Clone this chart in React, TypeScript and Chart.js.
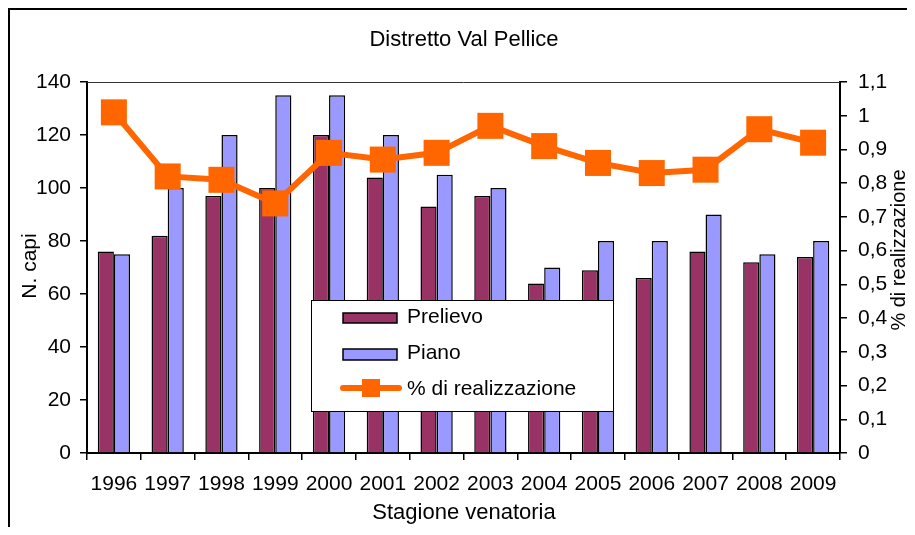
import React, { useEffect, useRef } from "react";
import { Chart, registerables } from "chart.js";

Chart.register(...registerables);

const years = ["1996","1997","1998","1999","2000","2001","2002","2003","2004","2005","2006","2007","2008","2009"];
const prelievo = [76, 82, 97, 100, 120, 104, 93, 97, 64, 69, 66, 76, 72, 74];
const piano = [75, 100, 120, 135, 135, 120, 105, 100, 70, 80, 80, 90, 75, 80];
const realizzazione = [1.01, 0.82, 0.81, 0.74, 0.89, 0.87, 0.89, 0.97, 0.91, 0.86, 0.83, 0.84, 0.96, 0.92];

const chartTitle = "Distretto Val Pellice";
const xTitle = "Stagione venatoria";
const yTitle = "N. capi";
const y1Title = "% di realizzazione";
const legendLabels = ["Prelievo", "Piano", "% di realizzazione"];

const FONT = "'Liberation Sans', Arial, sans-serif";
const COL_PRE = "#993366";
const COL_PIA = "#9999FF";
const COL_LINE = "#FF6600";

const decorPlugin = {
  id: "decor",
  afterDraw(chart: any) {
    const ctx = chart.ctx;
    const ca = chart.chartArea;
    ctx.save();
    // outer frame (top & left)
    ctx.strokeStyle = "#000";
    ctx.lineWidth = 2;
    ctx.beginPath();
    ctx.moveTo(1, chart.height);
    ctx.lineTo(1, 1);
    ctx.lineTo(chart.width, 1);
    ctx.stroke();
    // top border of plot area
    ctx.strokeStyle = "#333";
    ctx.lineWidth = 1;
    ctx.beginPath();
    ctx.moveTo(ca.left, ca.top + 0.5);
    ctx.lineTo(ca.right, ca.top + 0.5);
    ctx.stroke();

    ctx.fillStyle = "#000";
    ctx.textBaseline = "alphabetic";
    ctx.textAlign = "center";
    ctx.font = `22px ${FONT}`;
    ctx.fillText(chartTitle, 456, 38);
    ctx.fillText(xTitle, 456, 511);
    ctx.save();
    ctx.translate(28, 258);
    ctx.rotate(-Math.PI / 2);
    ctx.font = `21px ${FONT}`;
    ctx.fillText(yTitle, 0, 0);
    ctx.restore();
    ctx.save();
    ctx.translate(897, 242);
    ctx.rotate(-Math.PI / 2);
    ctx.font = `20px ${FONT}`;
    ctx.fillText(y1Title, 0, 0);
    ctx.restore();

    // legend
    const bx = 303, by = 292, bw = 302, bh = 111;
    ctx.fillStyle = "#fff";
    ctx.fillRect(bx, by, bw, bh);
    ctx.strokeStyle = "#000";
    ctx.lineWidth = 1;
    ctx.strokeRect(bx + 0.5, by + 0.5, bw, bh);
    ctx.lineWidth = 1.5;
    ctx.fillStyle = COL_PRE;
    ctx.fillRect(335, 305, 54, 10);
    ctx.strokeRect(335, 305, 54, 10);
    ctx.fillStyle = COL_PIA;
    ctx.fillRect(335, 341, 54, 11);
    ctx.strokeRect(335, 341, 54, 11);
    ctx.strokeStyle = COL_LINE;
    ctx.lineWidth = 6;
    ctx.lineCap = "round";
    ctx.beginPath();
    ctx.moveTo(335, 380);
    ctx.lineTo(391, 380);
    ctx.stroke();
    ctx.fillStyle = COL_LINE;
    ctx.fillRect(354, 371, 18, 18);
    ctx.fillStyle = "#000";
    ctx.textAlign = "left";
    ctx.textBaseline = "middle";
    ctx.font = `21px ${FONT}`;
    ctx.fillText(legendLabels[0], 399, 309);
    ctx.fillText(legendLabels[1], 399, 345);
    ctx.fillText(legendLabels[2], 399, 381);
    ctx.restore();
  },
};

export default function App() {
  const ref = useRef<HTMLCanvasElement | null>(null);
  useEffect(() => {
    if (!ref.current) return;
    const tickFont = { family: FONT, size: 21 };
    const chart = new Chart(ref.current, {
      type: "bar",
      data: {
        labels: years,
        datasets: [
          {
            type: "bar",
            label: legendLabels[0],
            data: prelievo,
            backgroundColor: COL_PRE,
            borderColor: "#000",
            borderWidth: 1.5,
            yAxisID: "y",
            order: 1,
            categoryPercentage: 0.6,
            barPercentage: 1,
          } as any,
          {
            type: "bar",
            label: legendLabels[1],
            data: piano,
            backgroundColor: COL_PIA,
            borderColor: "#000",
            borderWidth: 1.5,
            yAxisID: "y",
            order: 1,
            categoryPercentage: 0.6,
            barPercentage: 1,
          } as any,
          {
            type: "line",
            label: legendLabels[2],
            data: realizzazione,
            borderColor: COL_LINE,
            backgroundColor: COL_LINE,
            borderWidth: 6,
            pointStyle: "rect",
            pointRadius: 18.4,
            pointHoverRadius: 18.4,
            pointBorderWidth: 0,
            pointBackgroundColor: COL_LINE,
            tension: 0,
            yAxisID: "y1",
            order: 0,
            clip: false,
          } as any,
        ],
      },
      options: {
        responsive: false,
        animation: false,
        events: [],
        layout: { padding: { top: 74, left: 0, right: 0, bottom: 0 } },
        plugins: {
          legend: { display: false },
          title: { display: false },
          tooltip: { enabled: false },
        },
        scales: {
          x: {
            type: "category",
            offset: true,
            grid: {
              display: true,
              drawOnChartArea: false,
              drawTicks: true,
              tickLength: 7,
              color: "#000",
              lineWidth: 1.5,
              offset: true,
            },
            border: { display: true, color: "#000", width: 2 },
            ticks: {
              font: tickFont,
              color: "#000",
              padding: 12,
              autoSkip: false,
              maxRotation: 0,
              minRotation: 0,
            },
            afterFit: (s: any) => {
              s.height = 74;
            },
          },
          y: {
            position: "left",
            min: 0,
            max: 140,
            grid: {
              display: true,
              drawOnChartArea: false,
              drawTicks: true,
              tickLength: 7,
              color: "#000",
              lineWidth: 1.5,
            },
            border: { display: true, color: "#000", width: 2 },
            ticks: { stepSize: 20, font: tickFont, color: "#000", padding: 9 },
            afterFit: (s: any) => {
              s.width = 79;
            },
          },
          y1: {
            position: "right",
            min: 0,
            max: 1.1,
            grid: {
              display: true,
              drawOnChartArea: false,
              drawTicks: true,
              tickLength: 7,
              color: "#000",
              lineWidth: 1.5,
            },
            border: { display: true, color: "#000", width: 2 },
            ticks: {
              stepSize: 0.1,
              font: tickFont,
              color: "#000",
              padding: 11,
              callback: (v: any) => String(Number(Number(v).toFixed(1))).replace(".", ","),
            },
            afterFit: (s: any) => {
              s.width = 67;
            },
          },
        },
      } as any,
      plugins: [decorPlugin],
    });
    return () => chart.destroy();
  }, []);
  return (
    <div style={{ width: 899, height: 519 }}>
      <canvas ref={ref} width={899} height={519} style={{ display: "block" }} />
    </div>
  );
}
